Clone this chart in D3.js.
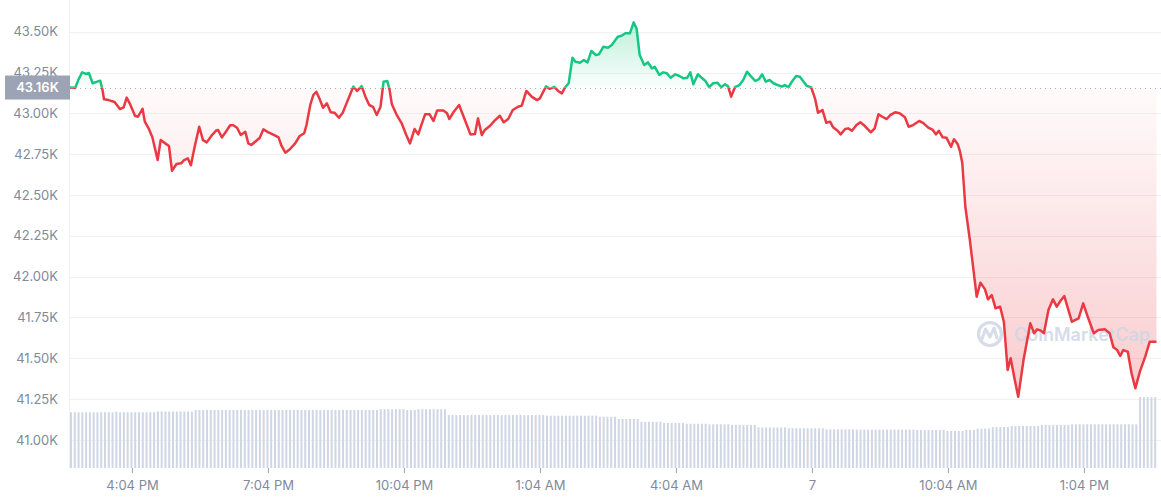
<!DOCTYPE html>
<html>
<head>
<meta charset="utf-8">
<script src="https://cdn.jsdelivr.net/npm/d3@7"></script>
<style>
body { margin: 0; background: #fff; }
svg { display: block; font-family: Inter, "Noto Sans", sans-serif; }
</style>
</head>
<body>
<div id="chart"></div>
<script>
// minutes after 2:42 PM (day 6) and BTC price in USD
var minutes = [
  0,7,11,16,21,25,30,36,40,43,45,51,59,66,71,75,79,86,90,96,99,104,109,116,120,126,131,135,141,147,
  151,156,160,165,171,176,181,188,193,196,201,205,212,216,221,226,232,236,240,245,251,256,262,271,276,280,285,291,298,304,
  310,313,318,322,326,330,335,340,345,350,356,361,366,372,375,380,386,391,396,401,406,411,415,420,423,426,432,439,445,450,
  456,461,465,470,476,481,486,494,499,502,508,515,521,530,536,540,545,549,556,562,569,574,580,586,593,598,604,611,618,622,
  630,635,641,
  646,651,655,660,665,669,675,680,685,690,696,700,706,712,717,725,730,735,741,746,750,754,760,765,770,774,780,785,790,795,
  801,806,812,817,821,825,831,836,841,846,851,857,862,867,871,875,880,886,891,896,901,907,912,916,921,926,931,937,942,946,
  951,956,961,966,971,975,981,986,990,
  996,1001,1006,1010,1016,1020,1026,1030,1035,1041,1046,1052,1060,1065,1070,1075,1081,1086,1092,1098,
  1105,1110,1116,1124,1129,1136,1142,1146,1150,1155,1160,1166,1170,1175,1178,1181,
  1185,1191,1200,1205,1211,1215,1220,1225,1231,1236,1241,1245,1250,1255,1262,1271,1276,1280,1285,1289,
  1295,1301,1306,1311,1316,1326,1335,1341,1347,1355,1361,1370,1376,1381,1386,1390,1394,1400,1405,1410,
  1416,1423,1429,1438
];
var prices = [
  43158,43157,43204,43251,43241,43247,43184,43194,43200,43143,43086,43081,43069,43026,43037,43096,43061,42985,42979,43028,
  42949,42908,42853,42714,42836,42816,42800,42648,42690,42694,42714,42724,42682,42795,42918,42836,42822,42867,42893,42898,
  42853,42878,42927,42927,42912,42867,42887,42816,42806,42826,42849,42902,42885,42865,42853,42800,42759,42780,42816,42861,
  42878,42928,43051,43112,43132,43092,43034,43061,43006,43004,42973,43004,43061,43129,43164,43137,43167,43102,43051,43040,
  42990,43040,43194,43198,43143,43055,42994,42939,42867,42816,42904,42871,42928,42994,42994,42953,43018,43018,43000,42965,
  43010,43051,42979,42871,42873,42969,42867,42898,42924,42955,42985,42945,42965,43020,43040,43047,43137,43102,43081,43092,
  43165,43150,43162,
  43137,43122,43157,43184,43340,43316,43310,43326,43312,43382,43357,43361,43408,43402,43418,43469,43475,43490,43490,43557,
  43516,43357,43296,43312,43276,43285,43235,43251,43245,43218,43239,43230,43214,43218,43251,43178,43239,43218,43198,43160,
  43184,43187,43160,43178,43165,43102,43160,43173,43204,43255,43228,43198,43210,43239,43194,43204,43184,43173,43163,43173,
  43160,43198,43228,43224,43194,43169,43158,43092,43004,
  43020,42942,42949,42914,42893,42871,42904,42908,42893,42928,42945,42922,42884,42908,42994,42979,42965,42991,43006,43000,
  42976,42918,42928,42953,42942,42912,42898,42871,42893,42853,42851,42795,42841,42810,42765,42694,
  42428,42224,41877,41963,41922,41861,41887,41806,41816,41724,41428,41500,41377,41264,41489,41714,41653,41677,41669,41653,
  41795,41861,41816,41852,41881,41724,41745,41836,41754,41653,41673,41677,41653,41567,41550,41514,41550,41540,41408,41316,
  41418,41509,41601,41601
];
// 5-minute volume bars (billions USD), one per interval
var volumes = [
  19.9,19.9,19.9,19.9,19.9,19.9,19.9,19.9,19.9,19.9,19.9,19.9,
  20.1,
  19.9,19.9,19.9,19.9,19.9,19.9,19.9,19.9,19.9,19.9,
  20.2,20.2,20.2,20.2,20.2,20.2,20.2,20.2,20.2,20.2,
  20.7,20.7,20.7,20.7,20.7,20.7,20.7,20.7,20.7,20.7,20.7,20.7,20.7,20.7,20.7,20.7,20.7,20.7,20.7,20.7,20.7,20.7,20.7,20.7,20.7,
  20.7,20.7,20.7,20.7,20.7,20.7,20.7,20.7,20.7,20.7,20.7,20.7,20.7,20.7,20.7,20.7,20.7,20.7,20.7,20.7,20.7,20.7,20.7,20.7,
  21.0,21.0,21.0,21.0,21.0,21.0,21.0,
  20.7,20.7,20.7,
  21.0,21.0,21.0,21.0,21.0,21.0,21.0,21.0,
  18.9,18.9,18.9,18.9,18.9,18.9,18.9,18.9,18.9,18.9,18.9,18.9,18.9,
  18.9,18.9,18.9,18.9,18.9,18.9,18.9,18.9,18.9,18.9,18.9,18.9,18.9,
  18.7,18.7,18.7,18.7,18.7,18.7,18.7,18.7,18.7,18.7,18.7,18.7,18.7,18.7,
  18.3,18.3,18.3,18.3,18.3,
  17.5,17.5,17.5,17.5,17.5,17.5,
  16.5,16.5,16.5,16.5,16.5,16.5,
  16.1,16.1,16.1,16.1,16.1,16.1,
  15.8,15.8,15.8,15.8,15.8,15.8,
  15.6,15.6,15.6,15.6,15.6,15.6,
  15.4,15.4,15.4,15.4,15.4,15.4,15.4,
  14.5,14.5,14.5,14.5,14.5,14.5,14.5,14.5,
  14.2,14.2,14.2,14.2,14.2,14.2,14.2,14.2,14.2,14.2,
  13.8,13.8,13.8,13.8,13.8,13.8,13.8,13.8,13.7,13.7,13.7,13.7,13.7,13.7,13.7,13.7,
  13.7,13.7,13.7,13.7,13.7,13.7,13.7,13.7,13.6,13.6,13.6,13.6,13.6,13.6,13.6,13.6,
  13.2,13.2,13.2,13.2,13.2,
  13.6,13.6,13.6,
  14.1,14.1,14.1,14.1,
  14.6,14.6,14.6,14.6,14.6,
  15.0,15.0,15.0,15.0,15.0,15.0,15.0,15.0,
  15.4,15.4,15.4,15.4,15.4,15.4,15.4,15.4,
  15.6,15.6,15.6,15.6,15.6,15.6,15.6,15.6,15.6,15.6,15.6,15.6,15.6,15.6,15.6,15.6,15.6,15.6,
  25.3,25.3,25.3,25.3,25.3
];
var baseline = 43158;
var yTicks = [41000, 41250, 41500, 41750, 42000, 42250, 42500, 42750, 43000, 43250, 43500];
var xTickMinutes = [82, 262, 442, 622, 802, 982, 1162, 1342];
var xTickLabels = ["4:04 PM", "7:04 PM", "10:04 PM", "1:04 AM", "4:04 AM", "7", "10:04 AM", "1:04 PM"];

var svgWidth = 1161, svgHeight = 500;
var plot = { left: 70, right: 1158, top: 0, bottom: 468 };
var green = "#16c784", red = "#ea3943";

var start = new Date(2022, 0, 6, 14, 42);
function toDate(m) { return new Date(start.getTime() + m * 60000); }

var data = minutes.map(function (m, i) { return { t: toDate(m), p: prices[i] }; });

var x = d3.scaleTime().domain([start, toDate(1440)]).range([plot.left, plot.right]);
var y = d3.scaleLinear().domain([40828, 43694]).range([plot.bottom, plot.top]);
var v = d3.scaleLinear().domain([0, 30]).range([plot.bottom, plot.bottom - 84]);

var svg = d3.select("#chart").append("svg")
  .attr("width", svgWidth)
  .attr("height", svgHeight);

var defs = svg.append("defs");
var yBase = y(baseline);

defs.append("clipPath").attr("id", "above")
  .append("rect").attr("x", 0).attr("y", 0).attr("width", svgWidth).attr("height", yBase);
defs.append("clipPath").attr("id", "below")
  .append("rect").attr("x", 0).attr("y", yBase).attr("width", svgWidth).attr("height", svgHeight - yBase);

var gUp = defs.append("linearGradient").attr("id", "gUp")
  .attr("gradientUnits", "userSpaceOnUse")
  .attr("x1", 0).attr("x2", 0)
  .attr("y1", y(d3.max(prices))).attr("y2", yBase);
gUp.append("stop").attr("offset", 0).attr("stop-color", green).attr("stop-opacity", 0.28);
gUp.append("stop").attr("offset", 1).attr("stop-color", green).attr("stop-opacity", 0.02);

var gDown = defs.append("linearGradient").attr("id", "gDown")
  .attr("gradientUnits", "userSpaceOnUse")
  .attr("x1", 0).attr("x2", 0)
  .attr("y1", yBase).attr("y2", y(d3.min(prices)));
gDown.append("stop").attr("offset", 0).attr("stop-color", red).attr("stop-opacity", 0.02);
gDown.append("stop").attr("offset", 1).attr("stop-color", red).attr("stop-opacity", 0.26);

// gridlines
svg.append("g")
  .selectAll("line")
  .data(yTicks)
  .enter().append("line")
  .attr("x1", plot.left).attr("x2", svgWidth)
  .attr("y1", function (d) { return Math.round(y(d)) + 0.5; })
  .attr("y2", function (d) { return Math.round(y(d)) + 0.5; })
  .attr("stroke", "#eff2f5");

svg.append("line")
  .attr("x1", plot.left - 0.5).attr("x2", plot.left - 0.5)
  .attr("y1", 0).attr("y2", plot.bottom)
  .attr("stroke", "#eff2f5");

// volume bars
svg.append("g")
  .selectAll("rect")
  .data(volumes)
  .enter().append("rect")
  .attr("x", function (d, i) { return x(toDate(i * 5)); })
  .attr("y", function (d) { return v(d); })
  .attr("width", 2)
  .attr("height", function (d) { return plot.bottom - v(d); })
  .attr("fill", "#cfd6e4");

// area fill
var area = d3.area()
  .x(function (d) { return x(d.t); })
  .y0(yBase)
  .y1(function (d) { return y(d.p); });

svg.append("path").datum(data)
  .attr("d", area)
  .attr("fill", "url(#gUp)")
  .attr("clip-path", "url(#above)");
svg.append("path").datum(data)
  .attr("d", area)
  .attr("fill", "url(#gDown)")
  .attr("clip-path", "url(#below)");

// watermark
var wm = svg.append("g").attr("opacity", 0.85);
wm.append("circle")
  .attr("cx", 990).attr("cy", 334).attr("r", 11.5)
  .attr("fill", "none").attr("stroke", "#cfd6e4").attr("stroke-width", 3.2);
wm.append("path")
  .attr("d", "M982,339 L985.5,329 L990,337 L994,328 L997,338")
  .attr("fill", "none").attr("stroke", "#cfd6e4").attr("stroke-width", 3)
  .attr("stroke-linejoin", "round").attr("stroke-linecap", "round");
wm.append("text")
  .attr("x", 1014).attr("y", 341)
  .attr("font-size", 18).attr("font-weight", 600)
  .attr("textLength", 136).attr("lengthAdjust", "spacingAndGlyphs")
  .attr("fill", "#cfd6e4")
  .text("CoinMarketCap");

// baseline
svg.append("line")
  .attr("x1", plot.left).attr("x2", svgWidth)
  .attr("y1", Math.round(yBase) + 0.5).attr("y2", Math.round(yBase) + 0.5)
  .attr("stroke", "#a6b0c3")
  .attr("stroke-width", 1)
  .attr("stroke-dasharray", "1,4");

// price line
var line = d3.line()
  .x(function (d) { return x(d.t); })
  .y(function (d) { return y(d.p); });

svg.append("path").datum(data)
  .attr("d", line)
  .attr("fill", "none").attr("stroke", green).attr("stroke-width", 2.5)
  .attr("stroke-linejoin", "round")
  .attr("clip-path", "url(#above)");
svg.append("path").datum(data)
  .attr("d", line)
  .attr("fill", "none").attr("stroke", red).attr("stroke-width", 2.5)
  .attr("stroke-linejoin", "round")
  .attr("clip-path", "url(#below)");

// y axis labels
var yAxis = svg.append("g")
  .attr("transform", "translate(" + plot.left + ",0)")
  .call(d3.axisLeft(y).tickValues(yTicks).tickSize(0).tickPadding(12)
    .tickFormat(function (d) { return (d / 1000).toFixed(2) + "K"; }));
yAxis.select(".domain").remove();
yAxis.selectAll("text").attr("fill", "#808a9d").attr("font-size", 13).attr("font-family", "Inter, sans-serif");

// x axis
var xAxis = svg.append("g")
  .attr("transform", "translate(0," + plot.bottom + ")")
  .call(d3.axisBottom(x).tickValues(xTickMinutes.map(toDate)).tickSize(5).tickPadding(8)
    .tickFormat(function (d, i) { return xTickLabels[i]; }));
xAxis.select(".domain").remove();
xAxis.selectAll("line").attr("stroke", "#9aa3b5");
xAxis.selectAll("text").attr("fill", "#808a9d").attr("font-size", 13).attr("font-family", "Inter, sans-serif");

// current-open label
svg.append("rect")
  .attr("x", 5).attr("y", yBase - 12)
  .attr("width", plot.left - 5).attr("height", 24)
  .attr("fill", "#9ca3b4");
svg.append("text")
  .attr("x", (plot.left + 5) / 2).attr("y", yBase)
  .attr("dy", "0.35em")
  .attr("text-anchor", "middle")
  .attr("fill", "#fff").attr("font-size", 13).attr("font-weight", 600)
  .text((baseline / 1000).toFixed(2) + "K");
</script>
</body>
</html>
